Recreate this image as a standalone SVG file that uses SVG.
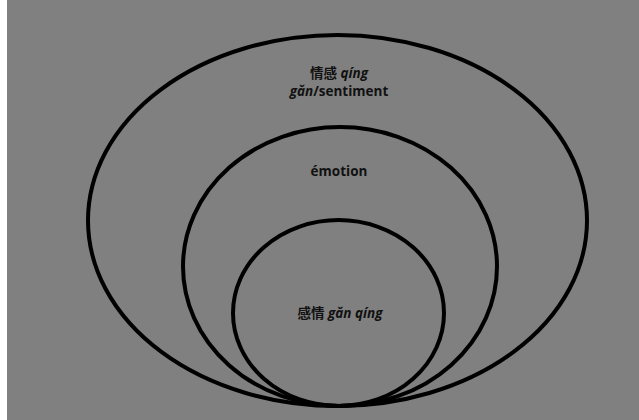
<svg xmlns="http://www.w3.org/2000/svg" width="639" height="420" viewBox="0 0 639 420">
<style>
.ring{fill:none;stroke:#000;stroke-width:4}
.t{font-family:"Open Sans","Noto Sans CJK SC",sans-serif;font-size:13.5px;font-weight:700;fill:#111;text-anchor:middle}
.i{font-style:italic}
</style>
<rect x="0" y="0" width="639" height="420" fill="#fff"/>
<rect x="7" y="0" width="632" height="420" fill="#808080"/>
<g id="outer">
<ellipse class="ring" cx="337.5" cy="220.5" rx="249.5" ry="185.5"/>
<text class="t" x="339" y="77.5">情感 <tspan class="i">qíng</tspan></text>
<text class="t" x="339" y="96">
<tspan class="i">gǎn</tspan>/sentiment</text>
</g>
<g id="middle">
<ellipse class="ring" cx="340" cy="266.5" rx="157" ry="139.5"/>
<text class="t" x="339" y="176">émotion</text>
</g>
<g id="inner">
<ellipse class="ring" cx="338.5" cy="313" rx="105.5" ry="93"/>
<text class="t" x="340" y="318">感情 <tspan class="i">gǎn qíng</tspan></text>
</g>
<g id="connectors"></g>
</svg>
